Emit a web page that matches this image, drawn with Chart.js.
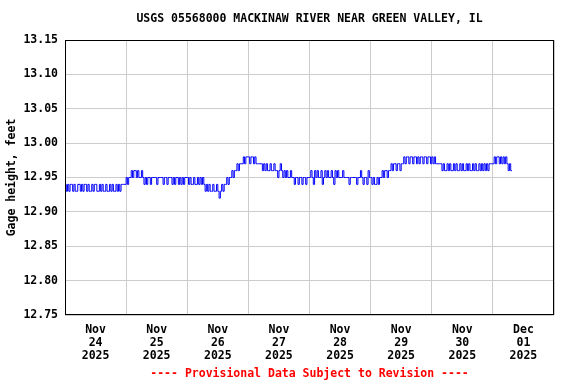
<!DOCTYPE html>
<html><head><meta charset="utf-8">
<script src="https://cdn.jsdelivr.net/npm/chart.js@4/dist/chart.umd.min.js"></script>
<style>html,body{margin:0;padding:0;background:#fff}</style>
</head><body>
<canvas id="c" width="576" height="384"></canvas>
<script>
// Gage height (feet), 30-minute readings
const nov24 = [12.94,12.93,12.94,12.93,12.94,12.94,12.93,12.94,12.93,12.93,12.94,12.94,12.93,12.94,12.93,12.94,12.94,12.93,12.94,12.93,12.93,12.94,12.93,12.94,12.94,12.93,12.93,12.94,12.93,12.94,12.93,12.93,12.94,12.93,12.93,12.94,12.93,12.94,12.93,12.93,12.94,12.93,12.94,12.93,12.94,12.94,12.94,12.94];
const nov25 = [12.95,12.94,12.95,12.95,12.96,12.95,12.96,12.96,12.95,12.96,12.95,12.95,12.96,12.95,12.94,12.95,12.94,12.95,12.95,12.94,12.95,12.95,12.95,12.95,12.94,12.95,12.95,12.95,12.95,12.94,12.95,12.95,12.94,12.95,12.95,12.95,12.94,12.95,12.94,12.95,12.95,12.94,12.95,12.94,12.95,12.94,12.95,12.95];
const nov26 = [12.95,12.94,12.95,12.94,12.94,12.95,12.94,12.94,12.95,12.94,12.95,12.94,12.95,12.94,12.93,12.94,12.93,12.94,12.93,12.93,12.94,12.93,12.93,12.94,12.93,12.92,12.93,12.94,12.93,12.94,12.94,12.95,12.94,12.95,12.95,12.96,12.95,12.96,12.96,12.97,12.96,12.97,12.97,12.97,12.98,12.97,12.98,12.98];
const nov27 = [12.98,12.97,12.98,12.98,12.97,12.98,12.97,12.97,12.97,12.97,12.97,12.96,12.97,12.96,12.97,12.96,12.96,12.97,12.96,12.96,12.97,12.96,12.96,12.95,12.96,12.97,12.96,12.95,12.96,12.95,12.96,12.95,12.95,12.96,12.95,12.95,12.94,12.95,12.95,12.94,12.95,12.95,12.94,12.95,12.95,12.94,12.95,12.95];
const nov28 = [12.95,12.96,12.95,12.94,12.96,12.95,12.96,12.95,12.95,12.96,12.94,12.95,12.96,12.95,12.96,12.95,12.95,12.96,12.95,12.94,12.96,12.95,12.96,12.95,12.95,12.95,12.96,12.95,12.95,12.95,12.95,12.94,12.95,12.95,12.95,12.95,12.95,12.94,12.95,12.95,12.96,12.95,12.94,12.95,12.95,12.94,12.96,12.95];
const nov29 = [12.95,12.94,12.95,12.94,12.94,12.95,12.94,12.95,12.95,12.96,12.95,12.96,12.96,12.95,12.96,12.96,12.97,12.96,12.97,12.97,12.96,12.97,12.97,12.96,12.97,12.97,12.98,12.97,12.98,12.98,12.97,12.98,12.98,12.97,12.98,12.98,12.97,12.98,12.97,12.98,12.98,12.97,12.98,12.98,12.97,12.98,12.98,12.97];
const nov30 = [12.98,12.97,12.98,12.97,12.97,12.97,12.97,12.97,12.96,12.97,12.96,12.96,12.97,12.96,12.97,12.96,12.96,12.97,12.96,12.97,12.96,12.96,12.97,12.96,12.97,12.96,12.96,12.97,12.96,12.97,12.96,12.96,12.97,12.96,12.97,12.96,12.96,12.97,12.96,12.97,12.96,12.97,12.96,12.97,12.96,12.97,12.97,12.97];
const dec01 = [12.97,12.98,12.97,12.98,12.98,12.97,12.98,12.97,12.98,12.97,12.98,12.97,12.96,12.97,12.96,12.96];
const days = [nov24, nov25, nov26, nov27, nov28, nov29, nov30, dec01];
const tickMonths = ['Nov','Nov','Nov','Nov','Nov','Nov','Nov','Dec'];
const tickDays = ['24','25','26','27','28','29','30','01'];
const tickYears = ['2025','2025','2025','2025','2025','2025','2025','2025'];
const titleText = 'USGS 05568000 MACKINAW RIVER NEAR GREEN VALLEY, IL';
const footerText = '---- Provisional Data Subject to Revision ----';

const points = [];
days.forEach((arr, d) => arr.forEach((v, i) => points.push({x: d * 24 + i * 0.5, y: v})));

const FAMILY = '"DejaVu Sans Mono", monospace';
const FONT = {family: FAMILY, size: 11.5, weight: 'bold'};

const framePlugin = {
  id: 'frame',
  afterDraw(chart) {
    const {ctx, chartArea: a} = chart;
    ctx.save();
    ctx.strokeStyle = '#000';
    ctx.lineWidth = 1;
    ctx.strokeRect(Math.round(a.left) + 0.5, Math.round(a.top) + 0.5,
                   Math.round(a.right - a.left) - 1, Math.round(a.bottom - a.top) - 1);
    // title and footer, centred over the plot area
    const cx = (a.left + a.right) / 2;
    ctx.font = 'bold 11.5px ' + FAMILY;
    ctx.textAlign = 'center';
    ctx.textBaseline = 'middle';
    ctx.fillStyle = '#000';
    ctx.fillText(titleText, cx, 19.5);
    ctx.fillStyle = '#ff0000';
    ctx.fillText(footerText, cx, 374.5);
    ctx.restore();
  }
};
const bgPlugin = {
  id: 'bg',
  beforeDraw(chart) {
    const ctx = chart.ctx;
    ctx.save(); ctx.fillStyle = '#fff'; ctx.fillRect(0, 0, chart.width, chart.height); ctx.restore();
  }
};

new Chart(document.getElementById('c'), {
  type: 'line',
  data: {datasets: [{
    data: points,
    borderColor: '#0000ff',
    borderWidth: 1,
    pointRadius: 0,
    stepped: true,
    fill: false
  }]},
  options: {
    responsive: false,
    animation: false,
    devicePixelRatio: 1,
    layout: {padding: {left: 0, right: 22, top: 40, bottom: 20}},
    plugins: {
      legend: {display: false},
      tooltip: {enabled: false},
      title: {display: false},
      subtitle: {display: false}
    },
    scales: {
      x: {
        type: 'linear',
        min: 0,
        max: 192,
        afterFit(scale) { scale.height = 49; },
        afterBuildTicks(scale) {
          const t = [];
          for (let h = 0; h <= 192; h += 12) t.push({value: h});
          scale.ticks = t;
        },
        grid: {
          drawTicks: false,
          color: (ctx) => (ctx.tick && ctx.tick.value % 24 === 0) ? '#cccccc' : 'rgba(0,0,0,0)',
          lineWidth: 1
        },
        border: {display: false},
        ticks: {
          autoSkip: false,
          maxRotation: 0,
          padding: 9,
          color: '#000',
          font: Object.assign({}, FONT, {lineHeight: 1.1}),
          callback: (v) => {
            if (v % 24 !== 12) return '';
            const d = (v - 12) / 24;
            return [tickMonths[d], tickDays[d], tickYears[d]];
          }
        }
      },
      y: {
        min: 12.75,
        max: 13.15,
        afterFit(scale) { scale.width = 65; },
        afterBuildTicks(scale) {
          const t = [];
          for (let i = 0; i <= 8; i++) t.push({value: +(12.75 + i * 0.05).toFixed(2)});
          scale.ticks = t;
        },
        grid: {drawTicks: false, color: '#cccccc', lineWidth: 1},
        border: {display: false},
        ticks: {
          padding: 7,
          color: '#000',
          font: FONT,
          callback: (v) => Number(v).toFixed(2)
        },
        title: {
          display: true,
          text: 'Gage height, feet',
          color: '#000',
          font: FONT,
          padding: {top: 5, bottom: 0}
        }
      }
    }
  },
  plugins: [bgPlugin, framePlugin]
});
</script>
</body></html>
